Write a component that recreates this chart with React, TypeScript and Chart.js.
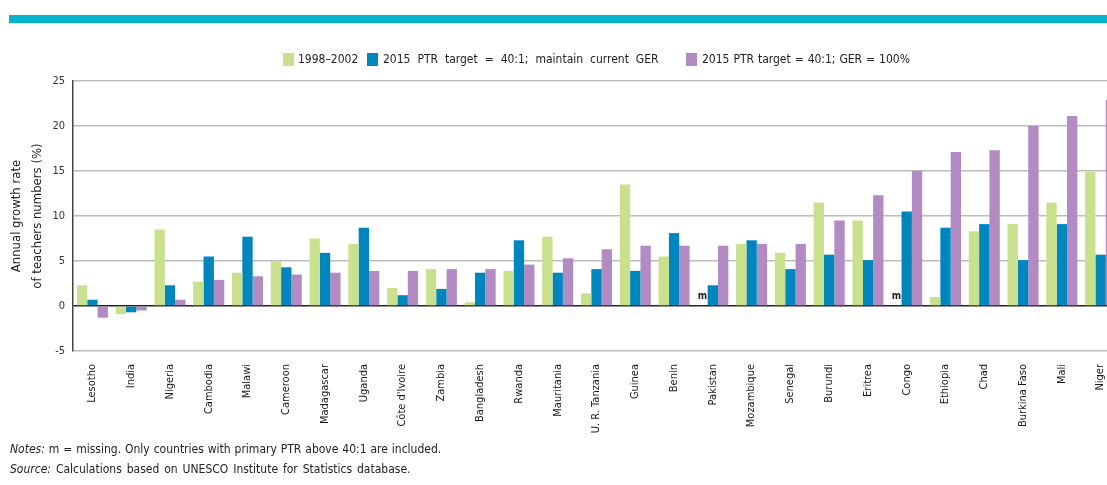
import React, { useEffect, useRef } from "react";
import { Chart, registerables } from "chart.js";

Chart.register(...registerables);

const categories = [
  "Lesotho", "India", "Nigeria", "Cambodia", "Malawi", "Cameroon", "Madagascar", "Uganda",
  "Côte d'Ivoire", "Zambia", "Bangladesh", "Rwanda", "Mauritania", "U. R. Tanzania", "Guinea",
  "Benin", "Pakistan", "Mozambique", "Senegal", "Burundi", "Eritrea", "Congo", "Ethiopia",
  "Chad", "Burkina Faso", "Mali", "Niger",
];

const series1998 = [
  2.3, -0.9, 8.5, 2.7, 3.7, 5.0, 7.5, 6.9, 2.0, 4.1, 0.4, 3.9, 7.7, 1.4, 13.5,
  5.5, null, 6.9, 5.9, 11.5, 9.5, null, 1.0, 8.3, 9.1, 11.5, 14.9,
];

const seriesMaintainGER = [
  0.7, -0.7, 2.3, 5.5, 7.7, 4.3, 5.9, 8.7, 1.2, 1.9, 3.7, 7.3, 3.7, 4.1, 3.9,
  8.1, 2.3, 7.3, 4.1, 5.7, 5.1, 10.5, 8.7, 9.1, 5.1, 9.1, 5.7,
];

const seriesGER100 = [
  -1.3, -0.5, 0.7, 2.9, 3.3, 3.5, 3.7, 3.9, 3.9, 4.1, 4.1, 4.6, 5.3, 6.3, 6.7,
  6.7, 6.7, 6.9, 6.9, 9.5, 12.3, 15.0, 17.1, 17.3, 20.0, 21.1, 22.9,
];

const seriesLabels = [
  "1998–2002",
  "2015 PTR target = 40:1; maintain current GER",
  "2015 PTR target = 40:1; GER = 100%",
];
const seriesColors = ["#c9e08c", "#0086bf", "#b18bc1"];

const yTicks = [-5, 0, 5, 10, 15, 20, 25];
const yTitle = ["Annual growth rate", "of teachers numbers (%)"];

const FONT = '"Liberation Sans Narrow", "DejaVu Sans Condensed", "Arial Narrow", sans-serif';

const CANVAS_W = 1125;
const CANVAS_H = 445;

const missingPlugin = {
  id: "missingMarks",
  afterDatasetsDraw(chart: any) {
    const ctx = chart.ctx;
    const yScale = chart.scales.y;
    const metaMid = chart.getDatasetMeta(1);
    ctx.save();
    ctx.font = `bold 10px ${FONT}`;
    ctx.fillStyle = "#222";
    ctx.textAlign = "center";
    ctx.textBaseline = "bottom";
    series1998.forEach((v, i) => {
      if (v === null) {
        const el = metaMid.data[i];
        const x = el.x - el.width;
        ctx.fillText("m", x, yScale.getPixelForValue(0) - 5);
      }
    });
    ctx.restore();
  },
};

export default function App() {
  const ref = useRef<HTMLCanvasElement | null>(null);

  useEffect(() => {
    if (!ref.current) return;
    const chart = new Chart(ref.current, {
      type: "bar",
      data: {
        labels: categories,
        datasets: [series1998, seriesMaintainGER, seriesGER100].map((d, i) => ({
          label: seriesLabels[i],
          data: d,
          backgroundColor: seriesColors[i],
          borderWidth: 0,
          categoryPercentage: 0.8,
          barPercentage: 1.0,
        })),
      },
      options: {
        responsive: false,
        animation: false,
        devicePixelRatio: 1,
        layout: { padding: { top: 81, right: 5, left: 0, bottom: 0 } },
        plugins: {
          legend: { display: false },
          tooltip: { enabled: false },
        },
        scales: {
          x: {
            afterFit: (s: any) => { s.height = CANVAS_H - 351; },
            grid: { display: false },
            border: { display: false },
            ticks: {
              autoSkip: false,
              maxRotation: 90,
              minRotation: 90,
              padding: 5,
              color: "#1a1a1a",
              font: { family: FONT, size: 11 },
            },
          },
          y: {
            min: -5,
            max: 25,
            afterFit: (s: any) => { s.width = 73; },
            afterBuildTicks: (s: any) => { s.ticks = yTicks.map((v) => ({ value: v })); },
            grid: {
              drawTicks: false,
              color: (c: any) => (c.tick && c.tick.value === 0 ? "#222" : "#bcbcbc"),
              lineWidth: (c: any) => (c.tick && c.tick.value === 0 ? 1.5 : 1.6),
            },
            border: { display: true, color: "#444", width: 1.5 },
            ticks: {
              padding: 8,
              color: "#333",
              font: { family: FONT, size: 11 },
            },
            title: {
              display: true,
              text: yTitle,
              color: "#222",
              font: { family: FONT, size: 13, lineHeight: 21 / 13 },
              padding: { top: 6, bottom: 0 },
            },
          },
        },
      },
      plugins: [missingPlugin],
    });
    return () => chart.destroy();
  }, []);

  const legendPos = [
    { box: 283, text: 298, ws: 0 },
    { box: 367, text: 383, ws: 3.5 },
    { box: 686, text: 702, ws: 0.5 },
  ];

  const noteStyle: React.CSSProperties = {
    position: "absolute",
    left: 10,
    fontSize: 12,
    lineHeight: "16px",
    color: "#222",
    whiteSpace: "nowrap",
  };

  return (
    <div
      style={{
        position: "fixed",
        left: 0,
        top: 0,
        width: 1107,
        height: 485,
        overflow: "hidden",
        background: "#fff",
        fontFamily: FONT,
      }}
    >
      <div style={{ position: "absolute", left: 9, top: 15, width: 1098, height: 8, background: "#00b5cc" }} />
      <canvas
        ref={ref}
        width={CANVAS_W}
        height={CANVAS_H}
        style={{ position: "absolute", left: 0, top: 0, width: CANVAS_W, height: CANVAS_H }}
      />
      {seriesLabels.map((lab, i) => (
        <React.Fragment key={lab}>
          <div
            style={{
              position: "absolute",
              left: legendPos[i].box,
              top: 53,
              width: 11,
              height: 13,
              background: seriesColors[i],
            }}
          />
          <div
            style={{
              position: "absolute",
              left: legendPos[i].text,
              top: 51,
              fontSize: 12,
              lineHeight: "16px",
              color: "#222",
              whiteSpace: "nowrap",
              wordSpacing: legendPos[i].ws,
            }}
          >
            {lab}
          </div>
        </React.Fragment>
      ))}
      <div style={{ ...noteStyle, top: 441, wordSpacing: 0.5 }}>
        <i>Notes:</i> m = missing. Only countries with primary PTR above 40:1 are included.
      </div>
      <div style={{ ...noteStyle, top: 461, wordSpacing: 1.5 }}>
        <i>Source:</i> Calculations based on UNESCO Institute for Statistics database.
      </div>
    </div>
  );
}
